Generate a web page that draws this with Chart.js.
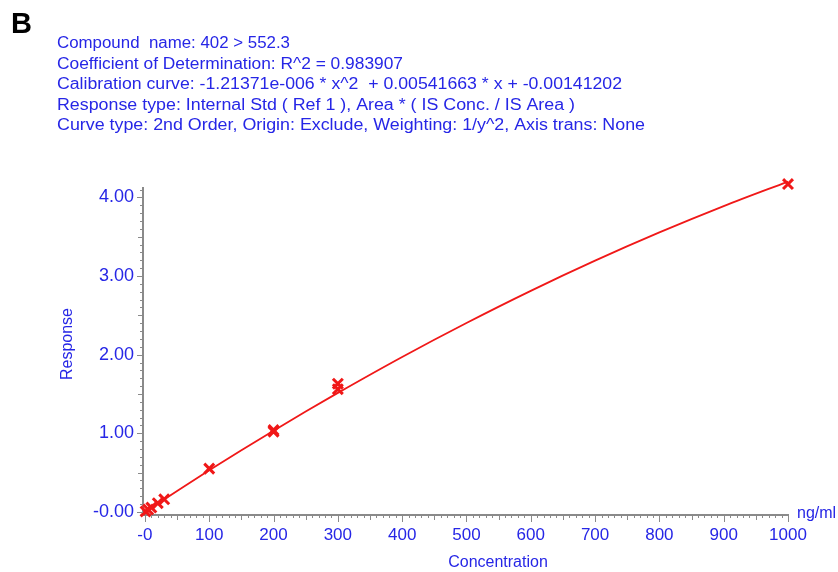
<!DOCTYPE html>
<html>
<head>
<meta charset="utf-8">
<script src="https://cdn.jsdelivr.net/npm/chart.js@4.4.1/dist/chart.umd.min.js"></script>
<style>
  html, body { margin: 0; padding: 0; background: #fff; }
  #calChart { display: block; }
</style>
</head>
<body>
<canvas id="calChart" width="838" height="572"></canvas>
<script>
// Calibration standards: concentration (ng/ml) and response ratio
var stdConc = [1, 5, 10, 20, 30, 100, 200, 200, 300, 300, 1000];
var stdResp = [0.005, 0.03, 0.055, 0.11, 0.16, 0.55, 1.02, 1.04, 1.56, 1.63, 4.17];

// Fitted 2nd order calibration curve
var curveConc = [0, 50, 100, 150, 200, 250, 300, 400, 500, 600, 700, 800, 900, 1000];
var curveResp = [-0.001, 0.266, 0.528, 0.784, 1.033, 1.277, 1.514, 1.971, 2.403, 2.812, 3.196, 3.555, 3.890, 4.202];

// Axis tick labels
var xTickValues = [0, 100, 200, 300, 400, 500, 600, 700, 800, 900, 1000];
var xTickLabels = ['-0', '100', '200', '300', '400', '500', '600', '700', '800', '900', '1000'];
var yTickValues = [0, 1, 2, 3, 4];
var yTickLabels = ['-0.00', '1.00', '2.00', '3.00', '4.00'];

// Header block above the plot
var headerLines = [
    'Compound  name: 402 > 552.3',
    'Coefficient of Determination: R^2 = 0.983907',
    'Calibration curve: -1.21371e-006 * x^2  + 0.00541663 * x + -0.00141202',
    'Response type: Internal Std ( Ref 1 ), Area * ( IS Conc. / IS Area )',
    'Curve type: 2nd Order, Origin: Exclude, Weighting: 1/y^2, Axis trans: None'
];
// right edge of each header line, text is stretched to reach it
var headerRight = [290, 403, 622, 575, 645];

var BLUE = '#2626e6';
var RED = '#f01818';
var AXIS_GREY = '#8a8a8a';
var FONT = '"Liberation Sans", Arial, sans-serif';

var decorations = {
    id: 'decorations',
    afterDraw: function(chart) {
        var ctx = chart.ctx;
        var xs = chart.scales.x;
        var ys = chart.scales.y;
        ctx.save();

        // tick marks: minor every 10 / 0.1, medium every 50 / 0.5
        ctx.strokeStyle = AXIS_GREY;
        ctx.lineWidth = 1;
        ctx.beginPath();
        for (var v = 0; v <= 1000; v += 10) {
            var px = Math.round(xs.getPixelForValue(v)) + 0.5;
            var lx = v % 100 === 0 ? 7 : (v % 50 === 0 ? 5 : 3);
            ctx.moveTo(px, xs.top);
            ctx.lineTo(px, xs.top + lx);
        }
        for (var i = 0; i <= 41; i++) {
            var py = Math.round(ys.getPixelForValue(i / 10)) + 0.5;
            var ly = i % 10 === 0 ? 6 : (i % 5 === 0 ? 5 : 3);
            ctx.moveTo(ys.right - ly, py);
            ctx.lineTo(ys.right, py);
        }
        ctx.stroke();

        // panel letter
        ctx.fillStyle = '#000';
        ctx.font = 'bold 29px ' + FONT;
        ctx.textAlign = 'left';
        ctx.textBaseline = 'alphabetic';
        ctx.fillText('B', 11, 33);

        // header
        ctx.fillStyle = BLUE;
        ctx.font = '16px ' + FONT;
        headerLines.forEach(function(line, k) {
            var w = ctx.measureText(line).width;
            ctx.save();
            ctx.translate(57, 48 + k * 20.6);
            ctx.scale((headerRight[k] - 57) / w, 1);
            ctx.fillText(line, 0, 0);
            ctx.restore();
        });

        // axis titles and unit
        ctx.fillText('ng/ml', 797, 518);
        ctx.textAlign = 'center';
        ctx.textBaseline = 'middle';
        ctx.fillText('Concentration', 498, 563);
        ctx.translate(68, 344);
        ctx.rotate(-Math.PI / 2);
        ctx.fillText('Response', 0, 0);
        ctx.restore();
    }
};

var ctx = document.getElementById('calChart').getContext('2d');
var calChart = new Chart(ctx, {
    type: 'scatter',
    data: {
        datasets: [{
            type: 'line',
            label: 'Curve',
            data: curveConc.map(function(c, i) { return {x: c, y: curveResp[i]}; }),
            borderColor: RED,
            borderWidth: 1.8,
            pointRadius: 0,
            cubicInterpolationMode: 'monotone',
            fill: false,
            clip: false
        }, {
            label: 'Standards',
            data: stdConc.map(function(c, i) { return {x: c, y: stdResp[i]}; }),
            pointStyle: 'crossRot',
            pointRadius: 7,
            pointBorderWidth: 3,
            borderColor: RED,
            backgroundColor: RED,
            clip: false
        }]
    },
    options: {
        responsive: false,
        animation: false,
        events: [],
        layout: { padding: { left: 59, right: 50, top: 188, bottom: 0 } },
        plugins: { legend: { display: false }, tooltip: { enabled: false } },
        scales: {
            x: {
                type: 'linear',
                min: -3,
                max: 1000,
                afterBuildTicks: function(scale) {
                    scale.ticks = xTickValues.map(function(v) { return {value: v}; });
                },
                afterFit: function(scale) { scale.height = 57; },
                grid: { display: false, drawTicks: true, tickLength: 7 },
                border: { display: true, color: AXIS_GREY, width: 2 },
                ticks: {
                    autoSkip: false,
                    maxRotation: 0,
                    padding: 3,
                    color: BLUE,
                    font: { family: FONT, size: 17 },
                    callback: function(v, i) { return xTickLabels[i]; }
                }
            },
            y: {
                type: 'linear',
                min: -0.04,
                max: 4.12,
                afterBuildTicks: function(scale) {
                    scale.ticks = yTickValues.map(function(v) { return {value: v}; });
                },
                afterFit: function(scale) { scale.width = 84; },
                grid: { display: false, drawTicks: true, tickLength: 6 },
                border: { display: true, color: AXIS_GREY, width: 2 },
                ticks: {
                    padding: 3,
                    color: BLUE,
                    font: { family: FONT, size: 18 },
                    callback: function(v, i) { return yTickLabels[i]; }
                }
            }
        }
    },
    plugins: [decorations]
});
</script>
</body>
</html>
